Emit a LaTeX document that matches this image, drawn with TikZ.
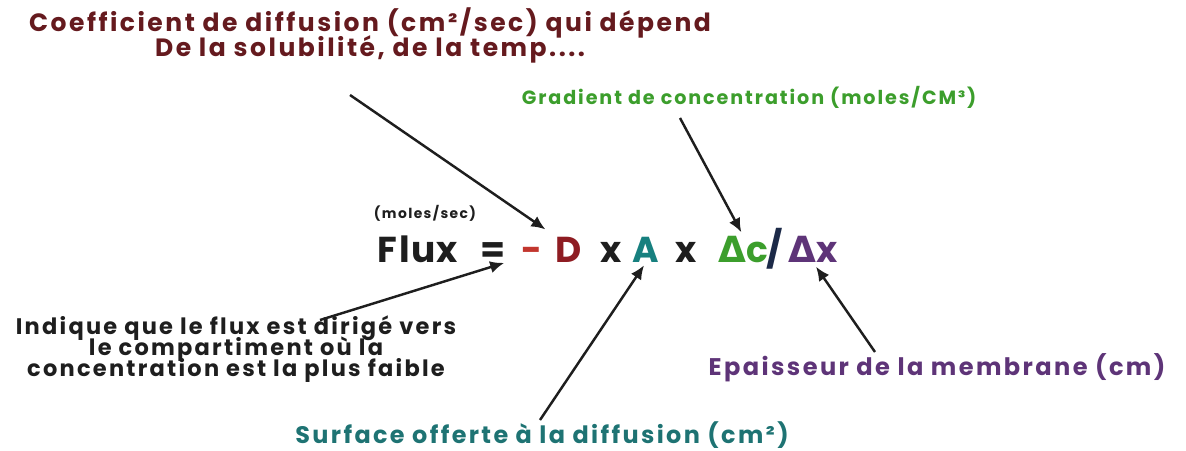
\documentclass[tikz,border=0pt]{standalone}
\usepackage{fontspec}
\setmainfont{Poppins}[LetterSpace=10]
\newfontfamily\deltafont{DejaVu Sans}
\usepackage{xcolor}
\usepackage{tikz}
\usetikzlibrary{positioning,arrows.meta}

\definecolor{coefred}{HTML}{651A1E}
\definecolor{minusred}{HTML}{C2362E}
\definecolor{dred}{HTML}{8E1C22}
\definecolor{gradgreen}{HTML}{3C9E2C}
\definecolor{surfteal}{HTML}{1E7373}
\definecolor{ateal}{HTML}{17807F}
\definecolor{slashnavy}{HTML}{1C2A48}
\definecolor{epurple}{HTML}{5E3478}
\definecolor{ink}{HTML}{1E1E1E}

\newcommand{\dlt}{{\deltafont\bfseries Δ}}
\newcommand{\tightlines}{\lineskiplimit=-20pt}

\begin{document}
\begin{tikzpicture}[
  x=0.02cm, y=-0.02cm,
  line/.style={-{Latex[length=8pt,width=7pt]}, line width=1.4pt, draw=ink},
  lbl/.style={inner sep=0pt, align=center},
  term/.style={inner sep=0pt, anchor=base, font=\bfseries\fontsize{20.5}{22}\selectfont\addfontfeature{LetterSpace=4}}
]
\useasboundingbox (0,0) rectangle (1186,450);

% Formula
\node[term, text=ink] (flux) at (418,262) {Flux};
\node[term, text=ink] (eq) at (493,262) {=};
\node[term, text=minusred] (minus) at (532,262) {-};
\node[term, text=dred] (D) at (569,262) {D};
\node[term, text=ink] (x1) at (611,262) {x};
\node[term, text=ateal] (A) at (646,262) {A};
\node[term, text=ink] (x2) at (686,262) {x};
\node[term, text=gradgreen] (dc) at (743,262) {\dlt c};
\node[term, text=slashnavy] (slash) at (775,262) {/};
\node[term, text=epurple] (dx) at (813,262) {\dlt x};
\node[lbl, text=ink, font=\bfseries\fontsize{7.9}{9}\selectfont] (unit) at (425,213) {(moles/sec)};

% Labels
\node[lbl, text=coefred, font=\bfseries\fontsize{14.25}{14.2}\selectfont\tightlines] (coef) at (370,35)
  {Coefficient de diffusion (cm²/sec) qui dépend\\De la solubilité, de la temp....};
\node[lbl, text=gradgreen, font=\bfseries\fontsize{10.9}{13}\selectfont] (grad) at (749,97)
  {Gradient de concentration (moles/CM³)};
\node[lbl, text=ink, font=\bfseries\fontsize{12.8}{12}\selectfont\tightlines] (sens) at (236,349)
  {Indique que le flux est dirigé vers\\le compartiment où la\\concentration est la plus faible};
\node[lbl, text=surfteal, font=\bfseries\fontsize{13.6}{15}\selectfont] (surf) at (542,435)
  {Surface offerte à la diffusion (cm²)};
\node[lbl, text=epurple, font=\bfseries\fontsize{13.7}{15}\selectfont] (epais) at (937,368)
  {Epaisseur de la membrane (cm)};

% Arrow tails
\coordinate (coef-tail) at (350,95);
\coordinate (grad-tail) at (680,118);
\coordinate (sens-tail) at (320,320);
\coordinate (surf-tail) at (540,420);
\coordinate (epais-tail) at (875,352);

% Arrows
\draw[line, shorten >=7pt] (coef-tail) -- (D.north west);
\draw[line, shorten >=2pt] (grad-tail) -- (dc.north);
\draw[line, shorten >=1pt] (sens-tail) -- (eq.south east);
\draw[line, shorten >=2pt] (surf-tail) -- (A.south);
\draw[line, shorten >=3pt] (epais-tail) -- (dx.south);
\end{tikzpicture}
\end{document}
